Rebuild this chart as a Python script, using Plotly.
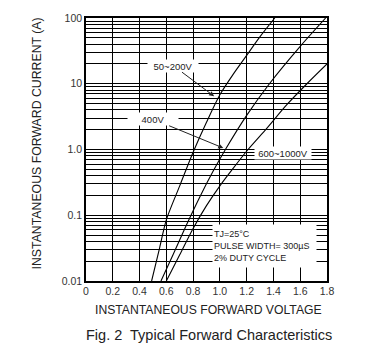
import plotly.graph_objects as go

# Forward voltage (V) and forward current (A) for each rating group
volt_50_200 = [0.49, 0.55, 0.60, 0.70, 0.80, 0.90, 1.00, 1.10, 1.20, 1.30, 1.41]
amp_50_200 = [0.01, 0.032, 0.085, 0.28, 0.91, 2.6, 6.8, 14, 27, 52, 100]

volt_400 = [0.56, 0.65, 0.75, 0.85, 0.95, 1.05, 1.20, 1.37, 1.60, 1.79]
amp_400 = [0.01, 0.025, 0.071, 0.19, 0.47, 1.07, 3.3, 10, 37, 100]

volt_600_1000 = [0.60, 0.70, 0.80, 0.90, 1.00, 1.10, 1.21, 1.35, 1.50, 1.65, 1.80]
amp_600_1000 = [0.01, 0.025, 0.063, 0.14, 0.28, 0.52, 1.0, 2.1, 4.8, 10, 20]

x_ticks = [0, 0.2, 0.4, 0.6, 0.8, 1.0, 1.2, 1.4, 1.6, 1.8]
x_tick_labels = ["0", "0.2", "0.4", "0.6", "0.8", "1.0", "1.2", "1.4", "1.6", "1.8"]
decades = [0.01, 0.1, 1, 10, 100]
decade_labels = ["0.01", "0.1", "1.0", "10", "100"]
series_labels = ["50~200V", "400V", "600~1000V"]

# minor log grid values 2..9 per decade
y_minor = [round(d * m, 6) for d in decades[:-1] for m in range(2, 10)]

FONT = "Liberation Sans, Arial, sans-serif"
fig = go.Figure()
for vx, iy in [(volt_50_200, amp_50_200), (volt_400, amp_400), (volt_600_1000, amp_600_1000)]:
    fig.add_trace(go.Scatter(x=vx, y=iy, mode="lines",
                             line=dict(color="black", width=1.1, shape="spline", smoothing=0.8),
                             showlegend=False, hoverinfo="skip"))

fig.update_layout(
    width=386, height=352,
    margin=dict(l=86, r=59, t=16, b=71),
    paper_bgcolor="white", plot_bgcolor="white",
    font=dict(family=FONT, color="#222", size=10),
    xaxis=dict(range=[0, 1.8], tickvals=x_ticks, ticktext=x_tick_labels,
               showgrid=True, gridcolor="black", gridwidth=1.3,
               showline=True, linecolor="black", linewidth=1.5, mirror=True,
               ticks="", zeroline=False, tickfont=dict(size=10.5, color="#333")),
    yaxis=dict(type="log", range=[-2, 2], tickvals=decades, ticktext=decade_labels,
               showgrid=True, gridcolor="black", gridwidth=1.3,
               minor=dict(tickmode="array", tickvals=y_minor, showgrid=True,
                          gridcolor="black", gridwidth=1.3, ticks=""),
               showline=True, linecolor="black", linewidth=1.5, mirror=True,
               ticks="", zeroline=False, tickfont=dict(size=10.5, color="#333")),
)

ann = []
# Axis titles and caption
ann.append(dict(text="INSTANTANEOUS FORWARD VOLTAGE", xref="paper", yref="paper", x=0.51, y=0,
                yshift=-29, showarrow=False, font=dict(size=12.2, color="#222"), yanchor="middle"))
ann.append(dict(text="Fig. 2  Typical Forward Characteristics", xref="paper", yref="paper", x=0.51, y=0,
                yshift=-54, showarrow=False, font=dict(size=14.5, color="#222"), yanchor="middle"))
ann.append(dict(text="INSTANTANEOUS FORWARD CURRENT (A)", xref="paper", yref="paper", x=0, y=0.523,
                xshift=-49, textangle=-90, showarrow=False, font=dict(size=12.3, color="#222"),
                xanchor="center", yanchor="middle"))
# Series labels with white boxes and arrows pointing to the curves
ann.append(dict(text=series_labels[0], x=0.957, y=0.81, ax=0.652, ay=1.275, axref="x", ayref="y",
                showarrow=True, arrowhead=2, arrowsize=1, arrowwidth=1, arrowcolor="#222",
                bgcolor="white", width=48, height=10, font=dict(size=9.5, color="#222")))
ann.append(dict(text=series_labels[1], x=1.025, y=0.023, ax=0.503, ay=0.46, axref="x", ayref="y",
                showarrow=True, arrowhead=2, arrowsize=1, arrowwidth=1, arrowcolor="#222",
                bgcolor="white", width=48, height=10, font=dict(size=9.5, color="#222")))
ann.append(dict(text=series_labels[2], x=1.47, y=-0.053, showarrow=False, bgcolor="white",
                width=54, height=10, font=dict(size=9.5, color="#222")))
# Conditions box
ann.append(dict(text="TJ=25\u00b0C<br>PULSE WIDTH= 300\u00b5S<br>2% DUTY CYCLE",
                x=0.943, y=-1.47, xanchor="left", yanchor="middle", align="left",
                showarrow=False, bgcolor="white", width=101, height=40,
                font=dict(size=9, color="#222")))
fig.update_layout(annotations=ann)

fig.write_html("out.html")
